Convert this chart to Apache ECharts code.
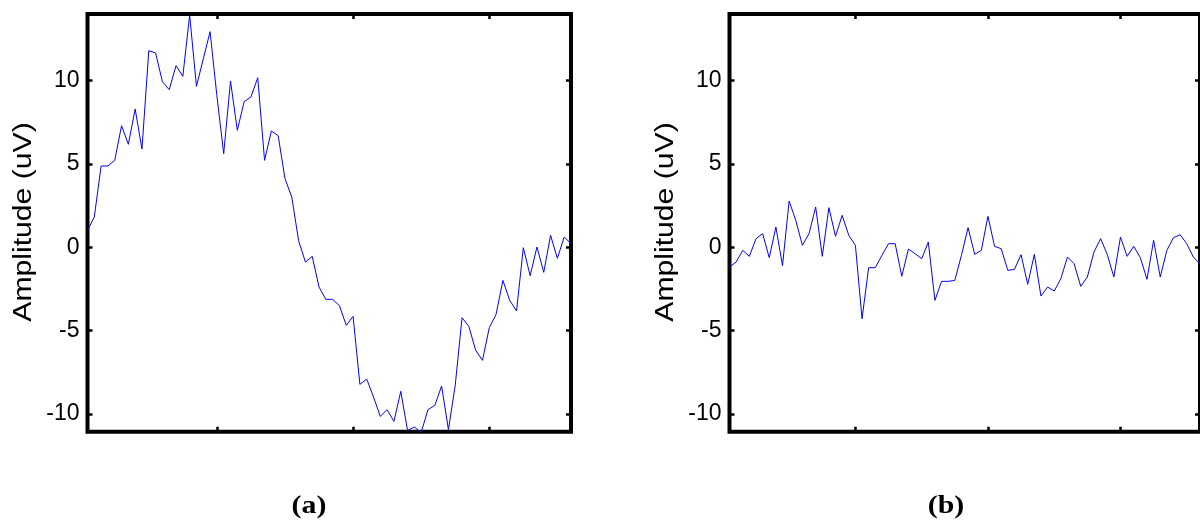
<!DOCTYPE html>
<html>
<head>
<meta charset="utf-8">
<script src="https://cdn.jsdelivr.net/npm/echarts@6/dist/echarts.min.js"></script>
<style>
html,body{margin:0;padding:0;background:#fff;}
#chart{width:1200px;height:521px;}
</style>
</head>
<body>
<div id="chart"></div>
<script>
// Panel (a) amplitude values (uV), sample 1..72
const ampA = [1.02, 1.82, 4.88, 4.88, 5.22, 7.3, 6.18, 8.3, 5.9, 11.8,
  11.66, 9.94, 9.46, 10.9, 10.26, 13.94, 9.66, 11.3, 12.94, 9.1,
  5.62, 9.98, 7.02, 8.74, 9.02, 10.18, 5.22, 6.98, 6.7, 4.12,
  3.02, 0.4, -0.88, -0.54, -2.38, -3.12, -3.12, -3.5, -4.68, -4.14,
  -8.22, -7.9, -8.98, -10.14, -9.74, -10.44, -8.64, -10.98, -10.78, -11.1,
  -9.74, -9.48, -8.32, -10.94, -8.28, -4.22, -4.74, -6.18, -6.78, -4.82,
  -4.02, -1.98, -3.18, -3.82, -0.02, -1.7, 0.02, -1.5, 0.72, -0.66,
  0.62, 0.22];
// Panel (b) amplitude values (uV), sample 1..72
const ampB = [-1.18, -0.88, -0.18, -0.54, 0.52, 0.82, -0.62, 1.22, -1.1, 2.78,
  1.62, 0.12, 0.82, 2.42, -0.54, 2.38, 0.66, 1.92, 0.72, 0.12,
  -4.28, -1.22, -1.22, -0.48, 0.22, 0.22, -1.74, -0.1, -0.38, -0.68,
  0.32, -3.18, -2.04, -2.04, -1.98, -0.48, 1.18, -0.42, -0.18, 1.86,
  0.06, -0.08, -1.38, -1.32, -0.44, -2.22, -0.42, -2.92, -2.38, -2.62,
  -1.88, -0.58, -0.98, -2.34, -1.78, -0.28, 0.52, -0.42, -1.78, 0.62,
  -0.54, 0.06, -0.62, -1.92, 0.42, -1.78, -0.18, 0.58, 0.76, 0.22,
  -0.58, -1.0];
const xTicks = [20, 40, 60];
const yTicks = [-10, -5, 0, 5, 10];
const yLabelText = 'Amplitude (uV)';
const panelTitles = ['(a)', '(b)'];

const SANS = '"Liberation Sans", Arial, sans-serif';
const SERIF = '"Liberation Serif", "Times New Roman", serif';

const toPairs = arr => arr.map((v, i) => [i + 1, v]);

const grids = [
  {left: 87.5, top: 14, width: 483.5, height: 417.7},
  {left: 729.5, top: 14, width: 477.1, height: 417.7}
];

const tickStyle = {show: true, inside: true, length: 5, lineStyle: {color: '#000', width: 2.5}};
const xAxes = [], yAxes = [], series = [];
grids.forEach((g, gi) => {
  ['bottom', 'top'].forEach(pos => {
    xAxes.push({type: 'value', gridIndex: gi, position: pos, min: 1, max: 72,
      axisLine: {show: false, onZero: false}, splitLine: {show: false},
      axisTick: Object.assign({customValues: xTicks}, tickStyle),
      axisLabel: {show: false, customValues: xTicks}});
  });
  yAxes.push({type: 'value', gridIndex: gi, position: 'left', min: -11.06, max: 14,
    axisLine: {show: false, onZero: false}, splitLine: {show: false},
    axisTick: Object.assign({customValues: yTicks}, tickStyle),
    axisLabel: {show: true, customValues: yTicks, margin: 8, color: '#000',
      fontFamily: SANS, fontSize: 23}});
  yAxes.push({type: 'value', gridIndex: gi, position: 'right', min: -11.06, max: 14,
    axisLine: {show: false, onZero: false}, splitLine: {show: false},
    axisTick: Object.assign({customValues: yTicks}, tickStyle),
    axisLabel: {show: false, customValues: yTicks}});
});
series.push({type: 'line', xAxisIndex: 0, yAxisIndex: 0, data: toPairs(ampA),
  symbol: 'none', lineStyle: {color: '#0000ff', width: 1}, clip: true, animation: false});
series.push({type: 'line', xAxisIndex: 2, yAxisIndex: 2, data: toPairs(ampB),
  symbol: 'none', lineStyle: {color: '#0000ff', width: 1}, clip: true, animation: false});

const graphics = [];
[24, 666].forEach(x => {
  graphics.push({type: 'text', x: x, y: 222, rotation: Math.PI / 2, scaleX: 1.16, z: 10,
    style: {text: yLabelText, fontFamily: SANS, fontSize: 26, fill: '#000',
      align: 'center', verticalAlign: 'middle'}});
});
[[309, panelTitles[0]], [946, panelTitles[1]]].forEach(([x, t]) => {
  graphics.push({type: 'text', x: x, y: 506, scaleX: 1.15, z: 10,
    style: {text: t, fontFamily: SERIF, fontWeight: 'bold', fontSize: 26, fill: '#000',
      align: 'center', verticalAlign: 'middle'}});
});

const chart = echarts.init(document.getElementById('chart'), null, {renderer: 'canvas'});
chart.setOption({
  animation: false,
  backgroundColor: '#fff',
  grid: grids.map(g => Object.assign({show: true, borderColor: '#000', borderWidth: 4,
    backgroundColor: 'transparent'}, g)),
  xAxis: xAxes,
  yAxis: yAxes,
  series: series,
  graphic: graphics
});
</script>
</body>
</html>
